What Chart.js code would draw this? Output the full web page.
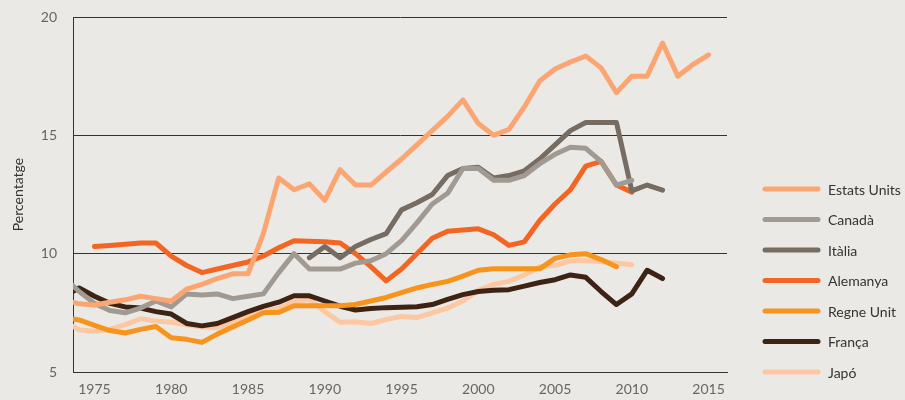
<!DOCTYPE html>
<html>
<head>
<meta charset="utf-8">
<script src="https://cdn.jsdelivr.net/npm/chart.js@4/dist/chart.umd.min.js"></script>
<style>
  body { margin: 0; background: #ebe9e6; }
  #wrap { width: 905px; height: 400px; }
</style>
</head>
<body>
<div id="wrap"><canvas id="myChart" width="905" height="400"></canvas></div>
<script>
var years = [1973, 1974, 1975, 1976, 1977, 1978, 1979, 1980, 1981, 1982,
  1983, 1984, 1985, 1986, 1987, 1988, 1989, 1990, 1991, 1992,
  1993, 1994, 1995, 1996, 1997, 1998, 1999, 2000, 2001, 2002,
  2003, 2004, 2005, 2006, 2007, 2008, 2009, 2010, 2011, 2012,
  2013, 2014, 2015];

var estatsUnits = [8.05, 7.88, 7.83, 7.95, 8.05, 8.2, 8.1, 8.0, 8.5, 8.7,
  8.95, 9.15, 9.15, 10.85, 13.2, 12.7, 12.95, 12.25, 13.55, 12.9,
  12.9, 13.45, 14.0, 14.6, 15.2, 15.8, 16.5, 15.5, 15.0, 15.25,
  16.2, 17.3, 17.8, 18.1, 18.35, 17.85, 16.8, 17.5, 17.5, 18.9,
  17.5, 18.0, 18.4];

var canada = [9.0, 8.4, 7.9, 7.6, 7.5, 7.7, 8.0, 7.75, 8.3, 8.25,
  8.3, 8.1, 8.2, 8.3, 9.2, 10.0, 9.35, 9.35, 9.35, 9.6,
  9.7, 10.0, 10.55, 11.3, 12.1, 12.55, 13.6, 13.6, 13.1, 13.1,
  13.3, 13.8, 14.2, 14.5, 14.45, 13.9, 12.9, 13.1, null, null,
  null, null, null];

var italia = [null, null, null, null, null, null, null, null, null, null,
  null, null, null, null, null, null, 9.83, 10.3, 9.83, 10.3,
  10.6, 10.85, 11.85, 12.15, 12.5, 13.3, 13.6, 13.65, 13.2, 13.3,
  13.5, 14.0, 14.6, 15.2, 15.54, 15.54, 15.54, 12.65, 12.9, 12.68,
  null, null, null];

var alemanya = [null, null, 10.3, 10.35, 10.4, 10.45, 10.45, 9.9, 9.5, 9.2,
  9.35, 9.5, 9.65, 9.9, 10.25, 10.55, 10.52, 10.5, 10.45, 10.0,
  9.45, 8.85, 9.35, 10.0, 10.65, 10.95, 11.0, 11.05, 10.8, 10.35,
  10.5, 11.4, 12.1, 12.7, 13.7, 13.9, 12.9, 12.6, null, null,
  null, null, null];

var regneUnit = [7.3, 7.2, 6.97, 6.75, 6.65, 6.8, 6.92, 6.45, 6.38, 6.25,
  6.6, 6.9, 7.2, 7.5, 7.52, 7.8, 7.8, 7.8, 7.8, 7.85,
  8.0, 8.15, 8.35, 8.55, 8.7, 8.83, 9.05, 9.3, 9.36, 9.36,
  9.36, 9.36, 9.8, 9.95, 10.0, 9.75, 9.45, null, null, null,
  null, null, null];

var franca = [8.2, 8.55, 8.2, 7.9, 7.75, 7.7, 7.55, 7.45, 7.05, 6.95,
  7.05, 7.3, 7.55, 7.77, 7.95, 8.22, 8.22, 8.0, 7.78, 7.62,
  7.68, 7.72, 7.74, 7.76, 7.85, 8.07, 8.27, 8.4, 8.45, 8.48,
  8.63, 8.78, 8.9, 9.1, 9.0, 8.4, 7.85, 8.3, 9.3, 8.95,
  null, null, null];

var japo = [7.15, 6.78, 6.72, 6.8, 7.0, 7.25, 7.15, 7.1, 7.0, 6.9,
  6.87, 7.1, 7.35, 7.55, 7.7, 7.98, 8.06, 7.55, 7.1, 7.12,
  7.05, 7.22, 7.35, 7.3, 7.5, 7.7, 8.0, 8.45, 8.7, 8.83,
  9.1, 9.45, 9.5, 9.7, 9.7, 9.67, 9.6, 9.53, null, null,
  null, null, null];

var seriesNames = ["Estats Units", "Canadà", "Itàlia", "Alemanya", "Regne Unit", "França", "Japó"];
var seriesValues = [estatsUnits, canada, italia, alemanya, regneUnit, franca, japo];
var lineColors = ["#fba672", "#a09a93", "#766c62", "#f26522", "#f7941d", "#3d2314", "#fdc7a2"];
var xTicks = [1975, 1980, 1985, 1990, 1995, 2000, 2005, 2010, 2015];
var yTicks = [5, 10, 15, 20];

function toPoints(values) {
  var pts = [];
  values.forEach(function (v, i) {
    if (v !== null) pts.push({ x: years[i], y: v });
  });
  return pts;
}

var datasets = seriesNames.map(function (name, i) {
  return {
    label: name,
    data: toPoints(seriesValues[i]),
    borderColor: lineColors[i],
    backgroundColor: lineColors[i],
    borderWidth: 5,
    borderCapStyle: "round",
    borderJoinStyle: "round",
    pointRadius: 0,
    tension: 0,
    fill: false,
    clip: { left: 0, top: 10, right: 10, bottom: 10 }
  };
});

// legend on the right, drawn by hand so it sits where the original has it
var sideLegend = {
  id: "sideLegend",
  afterDraw: function (chart) {
    var ctx = chart.ctx;
    chart.data.datasets.forEach(function (ds, i) {
      var y = 189 + i * 30.5;
      ctx.save();
      ctx.strokeStyle = ds.borderColor;
      ctx.lineWidth = 5;
      ctx.lineCap = "round";
      ctx.beginPath();
      ctx.moveTo(765, y);
      ctx.lineTo(818, y);
      ctx.stroke();
      ctx.fillStyle = "#333333";
      ctx.font = "14px Lato";
      ctx.textBaseline = "middle";
      ctx.fillText(ds.label, 828, y + 1);
      ctx.restore();
    });
  }
};

new Chart("myChart", {
  type: "line",
  data: { datasets: datasets },
  plugins: [sideLegend],
  options: {
    responsive: false,
    animation: false,
    layout: { padding: { left: 0, right: 178, top: 17, bottom: 0 } },
    plugins: {
      legend: { display: false },
      tooltip: { enabled: false }
    },
    scales: {
      x: {
        type: "linear",
        min: 1973.6,
        max: 2016.2,
        afterBuildTicks: function (scale) {
          scale.ticks = xTicks.map(function (v) { return { value: v }; });
        },
        afterFit: function (scale) { scale.height = 28; },
        grid: { display: false, drawTicks: false },
        border: { display: true, color: "#333333", width: 1 },
        ticks: {
          padding: 9,
          color: "#666666",
          font: { family: "Lato", size: 14 },
          maxRotation: 0,
          callback: function (v) { return String(v); }
        }
      },
      y: {
        min: 5,
        max: 20,
        afterBuildTicks: function (scale) {
          scale.ticks = yTicks.map(function (v) { return { value: v }; });
        },
        afterFit: function (scale) {
          scale.width = 73;
          scale.paddingTop = 0;
          scale.paddingBottom = 0;
        },
        grid: { color: "#333333", lineWidth: 1, drawTicks: false },
        border: { display: true, color: "#333333", width: 1 },
        ticks: {
          padding: 16,
          color: "#666666",
          font: { family: "Lato", size: 14 }
        },
        title: {
          display: true,
          text: "Percentatge",
          color: "#333333",
          font: { family: "Lato", size: 14 },
          padding: { top: 10, bottom: 0 }
        }
      }
    }
  }
});
</script>
</body>
</html>
